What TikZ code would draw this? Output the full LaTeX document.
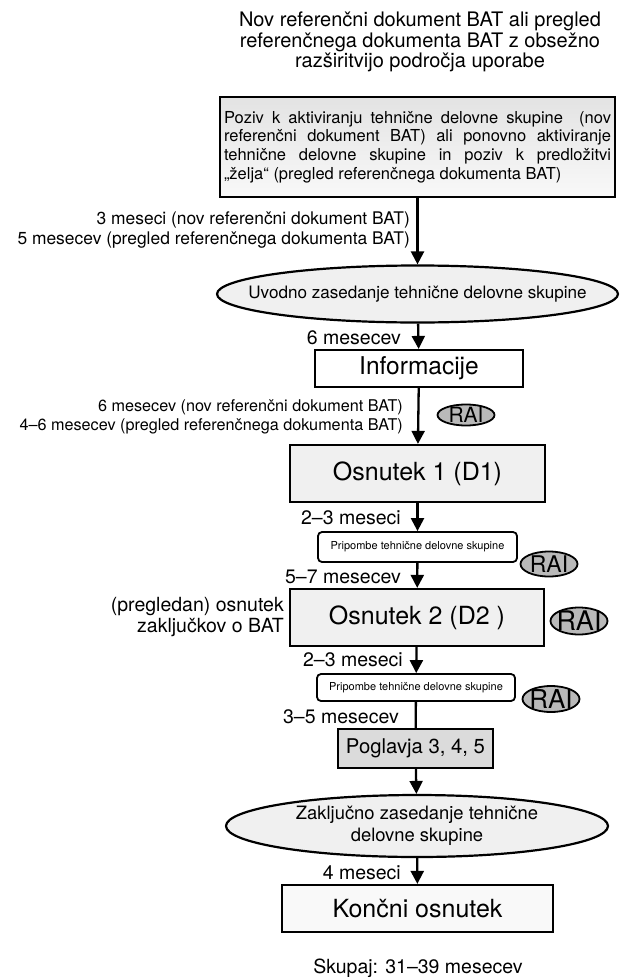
\documentclass[tikz,border=0pt]{standalone}
\usepackage{fontspec}
\setmainfont{TeX Gyre Heros}
\usetikzlibrary{shapes.geometric,arrows.meta}

\newcommand{\raitext}[1]{\makebox[0pt]{\smash{\raisebox{-.5\height}{#1}}}}

\tikzset{%
  korak/.style={draw, line width=2.2pt, inner sep=0pt, align=center, fill=gray!12},
  oval/.style={ellipse, draw, line width=2.2pt, fill=gray!12, inner ysep=0pt, align=center},
  opomba/.style={korak, fill=white, rounded corners=4pt, line width=1.8pt, font=\fontsize{11}{13}\selectfont},
  rai/.style={ellipse, draw, line width=1.8pt, fill=gray!55, inner sep=0pt, minimum width=57pt, minimum height=24pt, font=\fontsize{21}{21}\selectfont},
  rok/.style={anchor=east, inner sep=0pt, font=\fontsize{19.5}{21}\selectfont},
  rokdolg/.style={rok, align=right, font=\fontsize{17.4}{20}\selectfont},
  puscica/.style={draw, line width=2.3pt, -{Triangle[width=13pt,length=13pt]}},
  crta/.style={draw, line width=2.3pt},
}

\begin{document}
\begin{tikzpicture}[x=1pt, y=-1pt]
\useasboundingbox (0,0) rectangle (619,977);

\node[align=center, font=\fontsize{20}{20.7}\selectfont] (naslov) at (420,42)
  {Nov referenčni dokument BAT ali pregled\\
   referenčnega dokumenta BAT z obsežno\\
   razširitvijo področja uporabe};

\node[korak, top color=gray!22, bottom color=gray!5, minimum width=395pt, minimum height=100pt,
      text width=387pt, align=justify, font=\fontsize{16.5}{18.6}\selectfont] (poziv) at (417.5,147)
  {Poziv k aktiviranju tehnične delovne skupine\ \ (nov\linebreak
   referenčni dokument BAT) ali ponovno aktiviranje\linebreak
   tehnične delovne skupine in poziv k predložitvi\linebreak
   „želja“ (pregled referenčnega dokumenta BAT)};

\node[oval, inner xsep=-30pt, minimum width=401pt, minimum height=57pt, font=\fontsize{17.1}{20}\selectfont] (uvodno) at (417.5,294)
  {Uvodno zasedanje tehnične delovne skupine};
\node[korak, fill=white, minimum width=208pt, minimum height=37pt, font=\fontsize{24.5}{26}\selectfont] (info) at (419,368.5) {Informacije};
\node[korak, minimum width=255pt, minimum height=57pt, font=\fontsize{25}{27}\selectfont] (osn1) at (417.5,473.5) {Osnutek 1 (D1)};
\node[opomba, minimum width=199pt, minimum height=30pt] (prip1) at (417.5,547) {Pripombe tehnične delovne skupine};
\node[korak, minimum width=254pt, minimum height=57pt, font=\fontsize{25}{27}\selectfont] (osn2) at (417,617.5) {Osnutek 2 (D2 )};
\node[opomba, minimum width=198pt, minimum height=27pt] (prip2) at (416,687.5) {Pripombe tehnične delovne skupine};
\node[korak, fill=gray!28, minimum width=155pt, minimum height=39pt, font=\fontsize{20.3}{22}\selectfont] (pogl) at (415.5,748.5) {Poglavja 3, 4, 5};
\node[oval, inner xsep=0pt, minimum width=382pt, minimum height=62pt, font=\fontsize{18.4}{22}\selectfont] (zakljucno) at (417,826)
  {Zaključno zasedanje tehnične\\ delovne skupine};
\node[korak, fill=gray!5, minimum width=271pt, minimum height=47pt, font=\fontsize{25}{27}\selectfont] (koncni) at (417.5,908.5) {Končni osnutek};

\node[rai, minimum height=21pt] (rai1) at (466,415) {\raitext{RAI}};
\node[rai, minimum height=25pt, font=\fontsize{23}{23}\selectfont] (rai2) at (549,564) {\raitext{RAI}};
\node[rai, minimum height=27pt, font=\fontsize{27}{27}\selectfont] (rai3) at (579,621) {\raitext{RAI}};
\node[rai, minimum height=26pt, font=\fontsize{26}{26}\selectfont] (rai4) at (551,699) {\raitext{RAI}};

% roki
\node[rokdolg] (rok1) at (410,230) {3 meseci (nov referenčni dokument BAT)\\ 5 mesecev (pregled referenčnega dokumenta BAT)};
\node[rok] (rok2) at (401,338) {6 mesecev};
\node[rokdolg, font=\fontsize{16.2}{19.5}\selectfont] (rok3) at (403,417) {6 mesecev (nov referenčni dokument BAT)\\ 4–6 mesecev (pregled referenčnega dokumenta BAT)};
\node[rok] (rok4) at (401,518) {2–3 meseci};
\node[rok] (rok5) at (401,577) {5–7 mesecev};
\node[rok, align=right, font=\fontsize{19.5}{20.5}\selectfont] (zakl) at (284,617) {(pregledan) osnutek\\ zaključkov o BAT};
\node[rok] (rok6) at (403,660) {2–3 meseci};
\node[rok] (rok7) at (399,717) {3–5 mesecev};
\node[rok] (rok8) at (401,873) {4 meseci};

\node[font=\fontsize{19.5}{21}\selectfont] (skupaj) at (418,968) {Skupaj: 31–39 mesecev};

\draw[puscica] (poziv) -- (uvodno);
\draw[puscica] (uvodno) -- (info);
\draw[puscica] (info) -- (osn1);
\draw[puscica] (osn1) -- (prip1);
\draw[puscica] (prip1) -- (osn2);
\draw[puscica] (osn2) -- (prip2);
\draw[crta] (prip2) -- (pogl);
\draw[puscica] (pogl) -- (zakljucno);
\draw[puscica] (zakljucno) -- (koncni);
\end{tikzpicture}
\end{document}
